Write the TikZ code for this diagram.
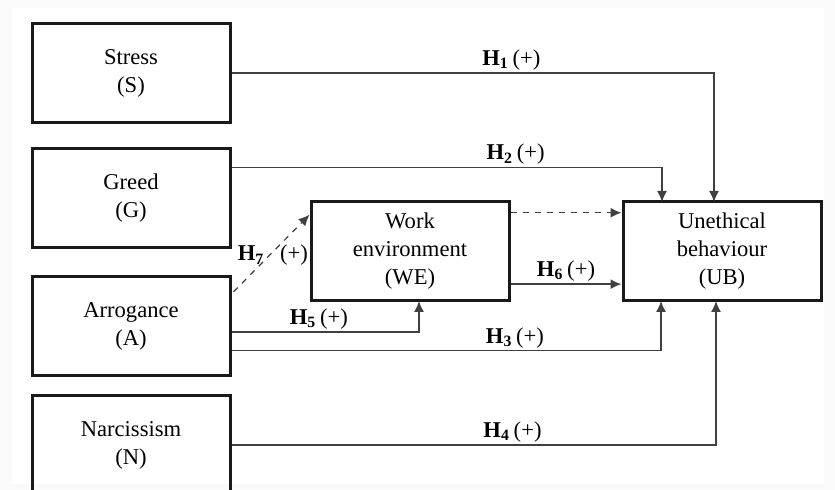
\documentclass[tikz,border=0pt]{standalone}
\usepackage{fontspec}
\setmainfont{Liberation Serif}
\usetikzlibrary{arrows.meta,calc}
\begin{document}
\begin{tikzpicture}[x=0.5pt,y=-0.5pt,
  box/.style={draw=black!90,line width=1.5pt,minimum width=99pt,minimum height=49.5pt,
    align=center,font=\fontsize{11.3}{14}\selectfont,inner sep=0pt},
  conn/.style={draw=black!75,line width=0.75pt,-{Latex[length=5.5pt,width=5pt]}},
  lab/.style={font=\fontsize{11.3}{14}\selectfont,inner sep=1pt,anchor=south}]
\fill[black!2] (0,0) rectangle (835,490);
\fill[white] (12,8) rectangle (824,484);
\clip (0,0) rectangle (835,490);
\node[box] (S) at (131,73) {Stress\\(S)};
\node[box] (G) at (131,198) {Greed\\(G)};
\node[box] (A) at (131,326.5) {Arrogance\\(A)};
\node[box] (N) at (131,445) {Narcissism\\(N)};
\node[box] (WE) at (410,251.5) {Work\\environment\\(WE)};
\node[box] (UB) at (722,251.5) {Unethical\\behaviour\\(UB)};
% target coordinates
\coordinate (u1) at (714,202);
\coordinate (u2) at (662,202);
\coordinate (u3) at (661,301);
\coordinate (u4) at (716,301);
\coordinate (w5) at (419,301);
% H1
\draw[conn] (S.east) -| node[lab,pos=0.29] {\textbf{H\textsubscript{1}}\,(+)} (u1);
% H2
\draw[conn] ($(G.north east)!0.2!(G.south east)$) -| node[lab,pos=0.33] {\textbf{H\textsubscript{2}}\,(+)} (u2);
% dashed WE -> UB
\coordinate (we1) at ($(WE.north east)!0.12!(WE.south east)$);
\draw[conn,dashed] (we1) -- (UB.west |- we1);
% H6
\coordinate (we2) at ($(WE.north east)!0.82!(WE.south east)$);
\draw[conn] (we2) -- node[lab,pos=0.5] {\textbf{H\textsubscript{6}}\,(+)} (UB.west |- we2);
% H5
\draw[conn] ($(A.north east)!0.555!(A.south east)$) -| node[lab,pos=0.233] {\textbf{H\textsubscript{5}}\,(+)} (w5);
% H3
\draw[conn] ($(A.north east)!0.737!(A.south east)$) -| node[lab,pos=0.33] {\textbf{H\textsubscript{3}}\,(+)} (u3);
% H4
\draw[conn] (N.east) -| node[lab,pos=0.29] {\textbf{H\textsubscript{4}}\,(+)} (u4);
% H7
\draw[conn,dashed,line width=0.6pt] ($(A.north east)!0.16!(A.south east)+(2,0)$) -- ($(WE.north west)!0.14!(WE.south west)$);
\node[font=\fontsize{11.3}{14}\selectfont,inner sep=0pt] (h7) at (251,255) {\textbf{H\textsubscript{7}}};
\node[font=\fontsize{11.3}{14}\selectfont,inner sep=0pt] (p7) at (294,255) {(+)};
\end{tikzpicture}
\end{document}
